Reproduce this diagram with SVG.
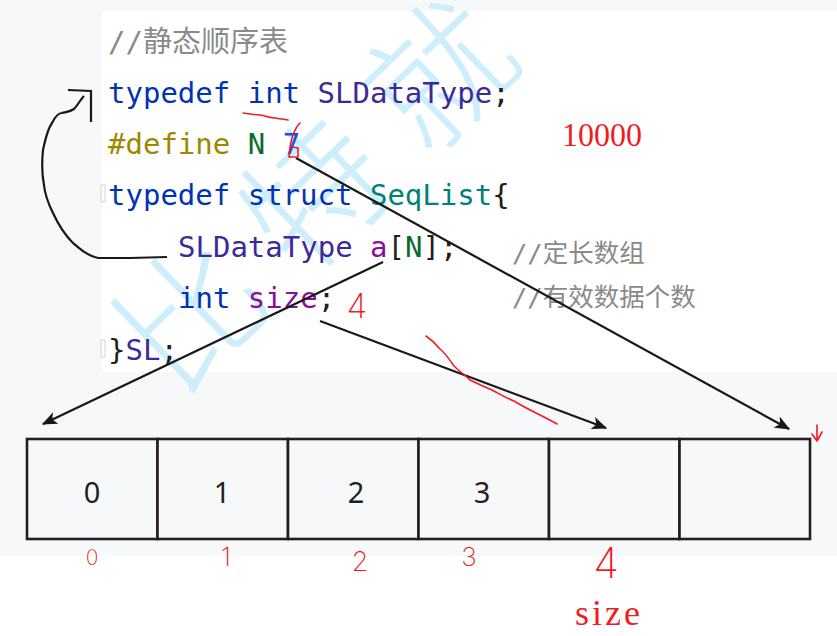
<svg xmlns="http://www.w3.org/2000/svg" width="837" height="636" viewBox="0 0 837 636">
<defs>
<style>
.code{font-family:"DejaVu Sans Mono","Noto Sans CJK SC",monospace;font-size:29px}
.cmt{fill:#8a8a8a}
.kw{fill:#0033b3}
.ty{fill:#3c2a98}
.pp{fill:#9e8800}
.mc{fill:#0b6b2e}
.num{fill:#1750eb}
.cls{fill:#00807a}
.fld{fill:#871094}
.pn{fill:#1e1e1e}
.rcm{font-family:"DejaVu Sans Mono","Noto Sans CJK SC",monospace;font-size:25.5px;fill:#8a8a8a}
.cell{fill:#f6f8fa;stroke:#231f20;stroke-width:2.6}
.cellt{font-family:"Noto Sans","Open Sans",sans-serif;font-size:29px;fill:#231f20;text-anchor:middle}
.redt{font-family:"Liberation Serif",serif;fill:#ee1c24}
.hand{font-family:"DejaVu Sans ExtraLight",Inter,sans-serif;font-weight:200;fill:#ee1c24;text-anchor:middle}
.rl{fill:none;stroke:#ee1c24;stroke-width:1.6;stroke-linecap:round;stroke-linejoin:round}
.bl{fill:none;stroke:#1a1718;stroke-width:2.2}
.wm{font-family:"Noto Sans CJK SC",serif;font-weight:300;font-size:140px;fill:#cdeefa}
</style>
<marker id="ah" viewBox="0 0 12 10" refX="11" refY="5" markerWidth="7" markerHeight="6" orient="auto" markerUnits="strokeWidth">
<path d="M0,0 L12,5 L0,10 L3,5 Z" fill="#1a1718"/>
</marker>
</defs>
<rect width="837" height="636" fill="#ffffff"/>
<rect x="0" y="0" width="837" height="11" fill="#f6f8fa"/>
<rect x="0" y="0" width="102" height="556" fill="#f6f8fa"/>
<rect x="0" y="372" width="837" height="184" fill="#f6f8fa"/>
<g id="watermark">
<text class="wm" transform="translate(176,400) rotate(-44)" letter-spacing="33">比特就</text>
</g>
<g id="code">
<rect x="101" y="185" width="4" height="17" fill="none" stroke="#d4d4d4" stroke-width="1"/>
<rect x="101" y="340" width="4" height="17" fill="none" stroke="#d4d4d4" stroke-width="1"/>
<text class="code cmt" x="108" y="52">//静态顺序表</text>
<text class="code" x="108" y="103"><tspan class="kw">typedef</tspan><tspan class="pn"> </tspan><tspan class="kw">int</tspan><tspan class="pn"> </tspan><tspan class="ty">SLDataType</tspan><tspan class="pn">;</tspan></text>
<text class="code" x="108" y="154"><tspan class="pp">#define</tspan><tspan class="pn"> </tspan><tspan class="mc">N</tspan><tspan class="pn"> </tspan><tspan class="num">7</tspan></text>
<text class="code" x="108" y="205"><tspan class="kw">typedef</tspan><tspan class="pn"> </tspan><tspan class="kw">struct</tspan><tspan class="pn"> </tspan><tspan class="cls">SeqList</tspan><tspan class="pn">{</tspan></text>
<text class="code" x="178" y="257"><tspan class="ty">SLDataType</tspan><tspan class="pn"> </tspan><tspan class="fld">a</tspan><tspan class="pn">[</tspan><tspan class="mc">N</tspan><tspan class="pn">];</tspan></text>
<text class="code" x="178" y="308"><tspan class="kw">int</tspan><tspan class="pn"> </tspan><tspan class="fld">size</tspan><tspan class="pn">;</tspan></text>
<text class="code" x="108" y="360"><tspan class="pn">}</tspan><tspan class="ty">SL</tspan><tspan class="pn">;</tspan></text>
<text class="rcm" x="512" y="262">//定长数组</text>
<text class="rcm" x="512" y="306">//有效数据个数</text>
</g>
<g id="array">
<g id="cell0"><rect class="cell" x="27" y="439" width="130.5" height="100"/><text class="cellt" x="92" y="503">0</text></g>
<g id="cell1"><rect class="cell" x="157.5" y="439" width="130.5" height="100"/><text class="cellt" x="222" y="503">1</text></g>
<g id="cell2"><rect class="cell" x="288" y="439" width="130.5" height="100"/><text class="cellt" x="356" y="503">2</text></g>
<g id="cell3"><rect class="cell" x="418.5" y="439" width="130.5" height="100"/><text class="cellt" x="482" y="503">3</text></g>
<g id="cell4"><rect class="cell" x="549" y="439" width="130.5" height="100"/></g>
<g id="cell5"><rect class="cell" x="679.5" y="439" width="130.5" height="100"/></g>
</g>
<g id="connectors">
<line class="bl" x1="296" y1="158" x2="789" y2="429" marker-end="url(#ah)"/>
<line class="bl" x1="383" y1="262" x2="43" y2="424" marker-end="url(#ah)"/>
<line class="bl" x1="320" y1="321" x2="606" y2="428" marker-end="url(#ah)"/>
<path class="bl" d="M167,257 L130,258 L98,258 C88,256 80,249 73,243 C66,236 58,224 53,213 C48,203 45,196 44,185 C42,175 42,160 43,150 C45,141 47,130 52,123 C55,117 58,113 62,113 C66,112 70,112 74,109 C78,105 80,100 84,96"/>
<path class="bl" d="M68,90 L91,91 L91,122"/>
</g>
<g id="annotations">
<path class="rl" d="M243,113 C250,114 256,115 260,115 C266,116 270,118 275,118 C280,119 284,119 288,120"/>
<path class="rl" d="M300,123 C296,127 295,130 293,135 C291,140 291,143 290,147 L289,157 L298,157 L298,148 L292,147"/>
<path class="rl" d="M426,336 C432,340 436,344 440,349 C446,354 450,360 454,366 C460,372 466,376 470,380 C478,384 485,387 492,390 C500,394 506,398 514,401 C522,406 530,410 538,414 C546,418 552,421 557,424"/>
<path class="rl" d="M817,425 L817,441 M812,434 L817,441 L822,432"/>
<text class="redt" x="562" y="146" font-size="34" textLength="80" lengthAdjust="spacingAndGlyphs">10000</text>
<text class="redt" x="575" y="625" font-size="36" textLength="65" lengthAdjust="spacing">size</text>
<text class="hand" x="357" y="318" font-size="34">4</text>
<text class="hand" x="92" y="565" font-size="21">0</text>
<text class="hand" x="226" y="566" font-size="26">1</text>
<text class="hand" x="360" y="571" font-size="27">2</text>
<text class="hand" x="469" y="566" font-size="26">3</text>
<text class="hand" x="606" y="578" font-size="42">4</text>
</g>
</svg>
